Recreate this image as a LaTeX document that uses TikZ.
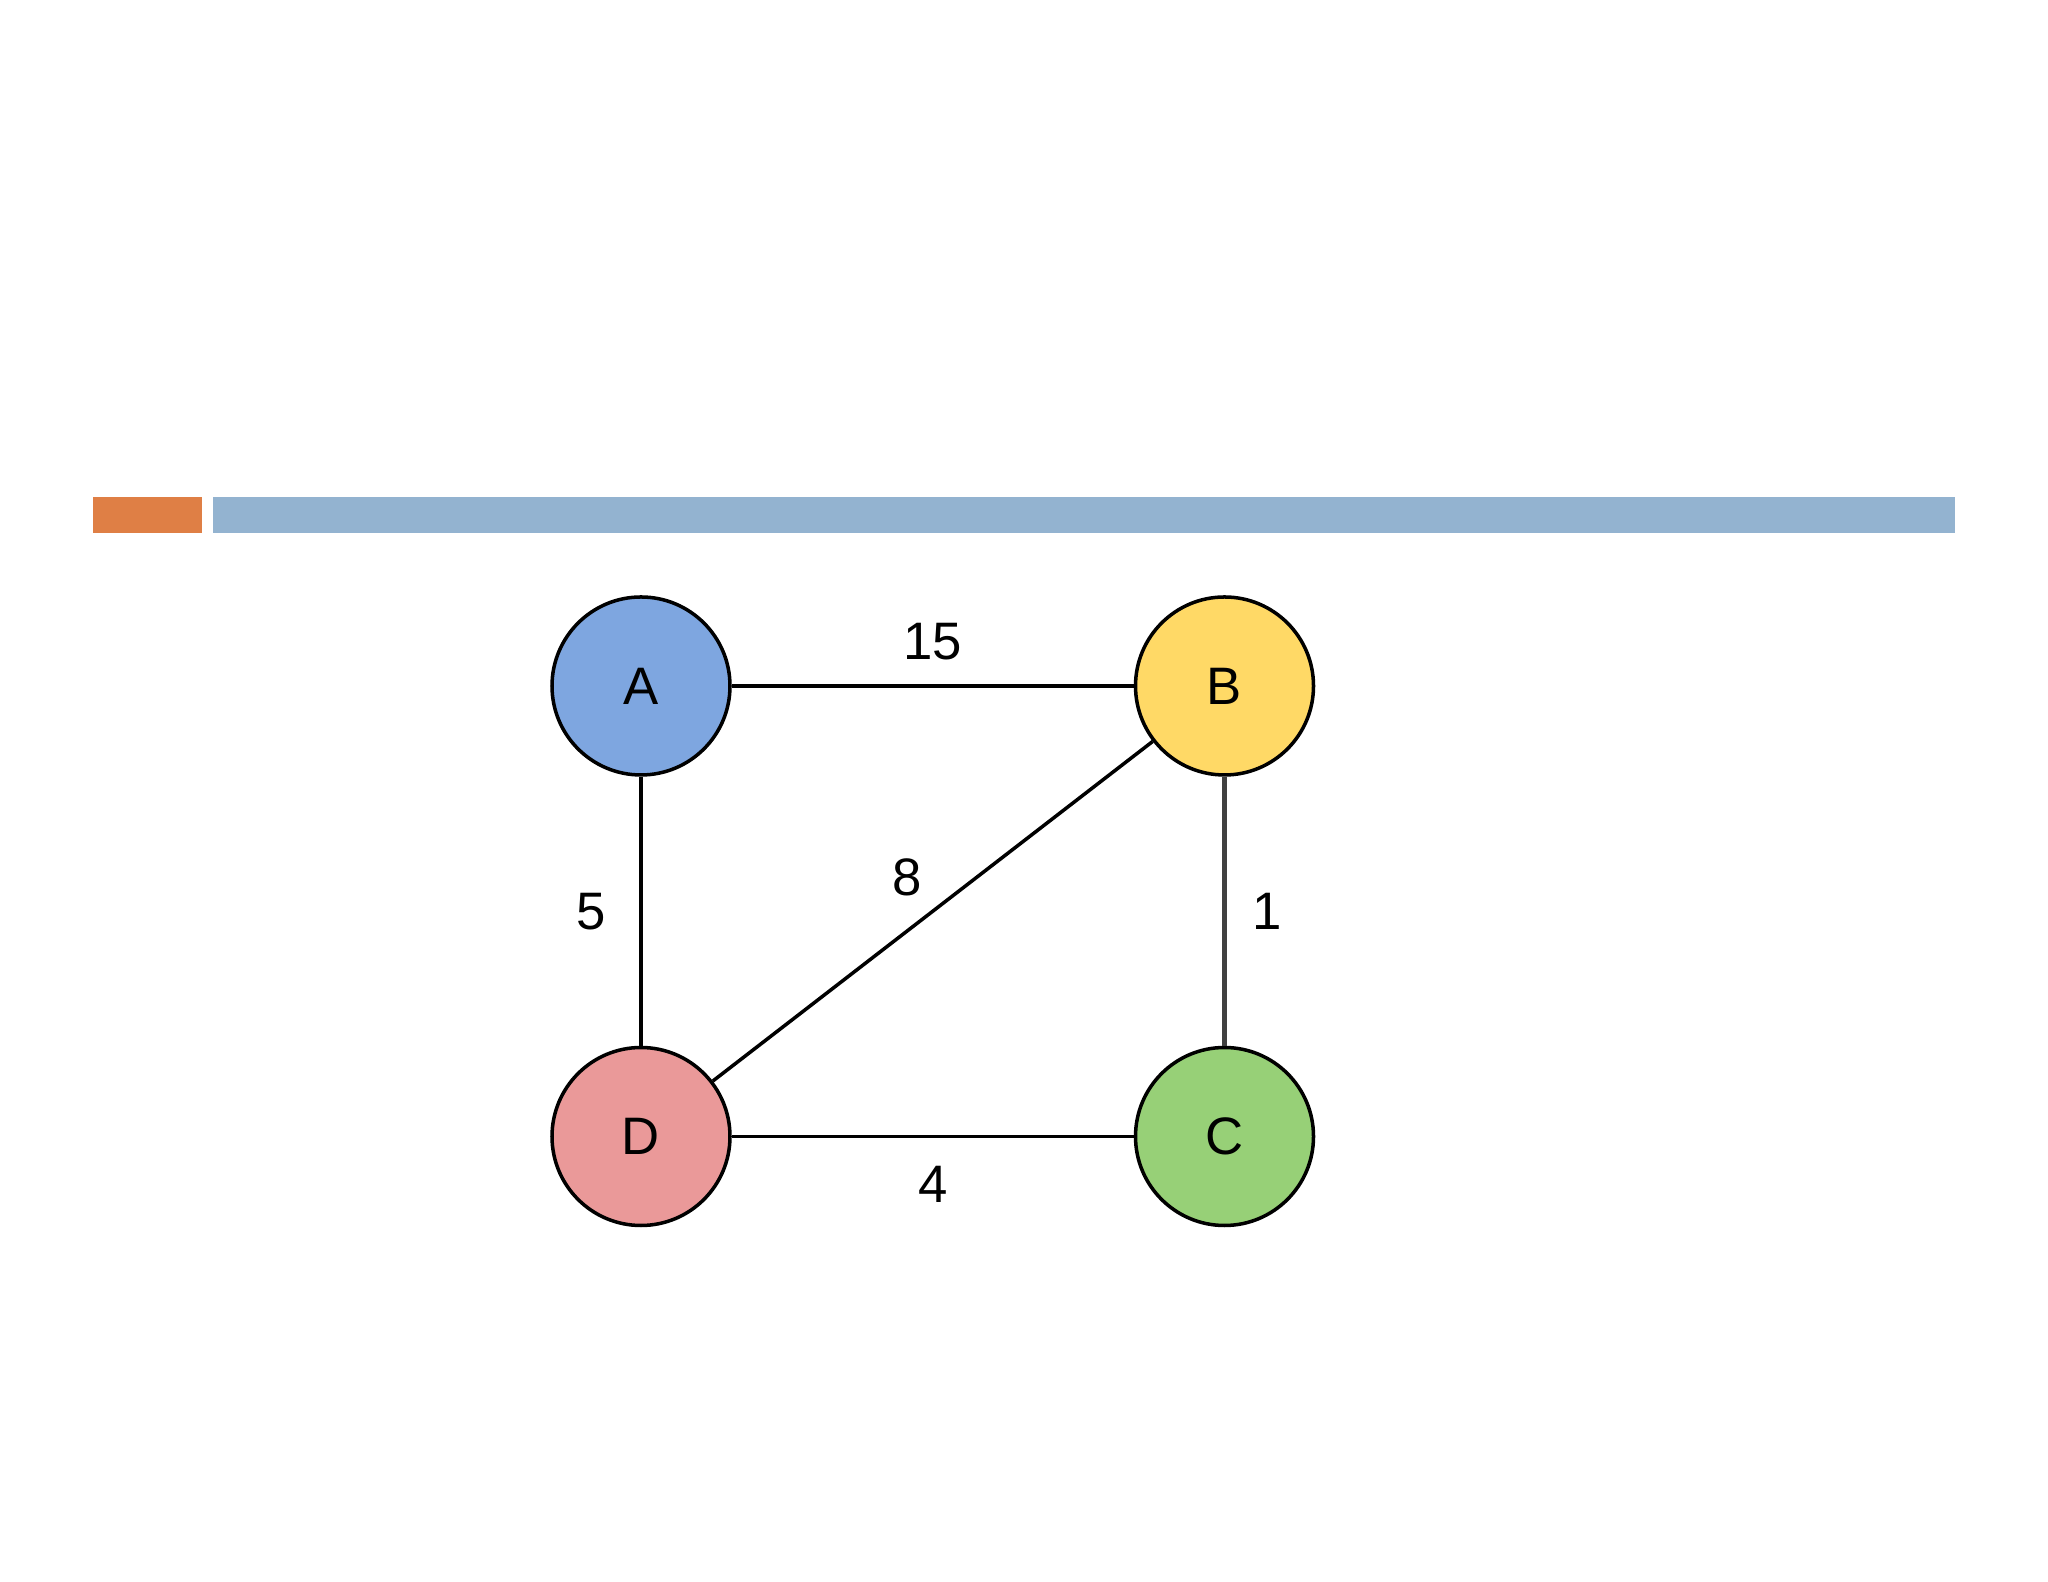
\documentclass[tikz,border=0pt]{standalone}
\usepackage{fontspec}
\setmainfont{Liberation Sans}
\usepackage{xcolor}
\usetikzlibrary{positioning}

\definecolor{barorange}{HTML}{DF7F45}
\definecolor{barblue}{HTML}{93B3D0}
\definecolor{nodeblue}{HTML}{7EA6E0}
\definecolor{nodeyellow}{HTML}{FFD966}
\definecolor{nodegreen}{HTML}{97D077}
\definecolor{nodered}{HTML}{EA9999}

\begin{document}
\begin{tikzpicture}[
  font=\fontsize{15}{18}\selectfont,
  vert/.style={
    circle,
    draw,
    line width=1pt,
    minimum size=1.78cm,
    inner sep=0pt
  },
  edge/.style={line width=1pt},
  wt/.style={font=\fontsize{15}{18}\selectfont}
]
\useasboundingbox (0,0) rectangle (20.48,15.82);

% --- Title bars ---
\fill[barorange] (0.93,10.49) rectangle (2.02,10.85);
\fill[barblue] (2.13,10.49) rectangle (19.55,10.85);

% --- Vertices ---
\node[vert, fill=nodeblue] (A) at (6.41,8.96) {A};
\node[vert, fill=nodeyellow, right=4.02cm of A] (B) {B};
\node[vert, fill=nodered, below=2.69cm of A] (D) {D};
\node[vert, fill=nodegreen, right=4.02cm of D] (C) {C};

% --- Weighted edges ---
\draw[edge] (A) -- node[wt, above=1.2mm] {15} (B);
\draw[edge] (A) -- node[wt, left=2.2mm] {5} (D);
\draw[edge] (D) -- node[wt, above left=0.3mm, xshift=0.5mm] {8} (B);
\draw[edge, black!75, line width=1.3pt] (B) -- node[wt, black, right=1.4mm] {1} (C);
\draw[edge] (D) -- node[wt, below=1.6mm] {4} (C);

\end{tikzpicture}
\end{document}
